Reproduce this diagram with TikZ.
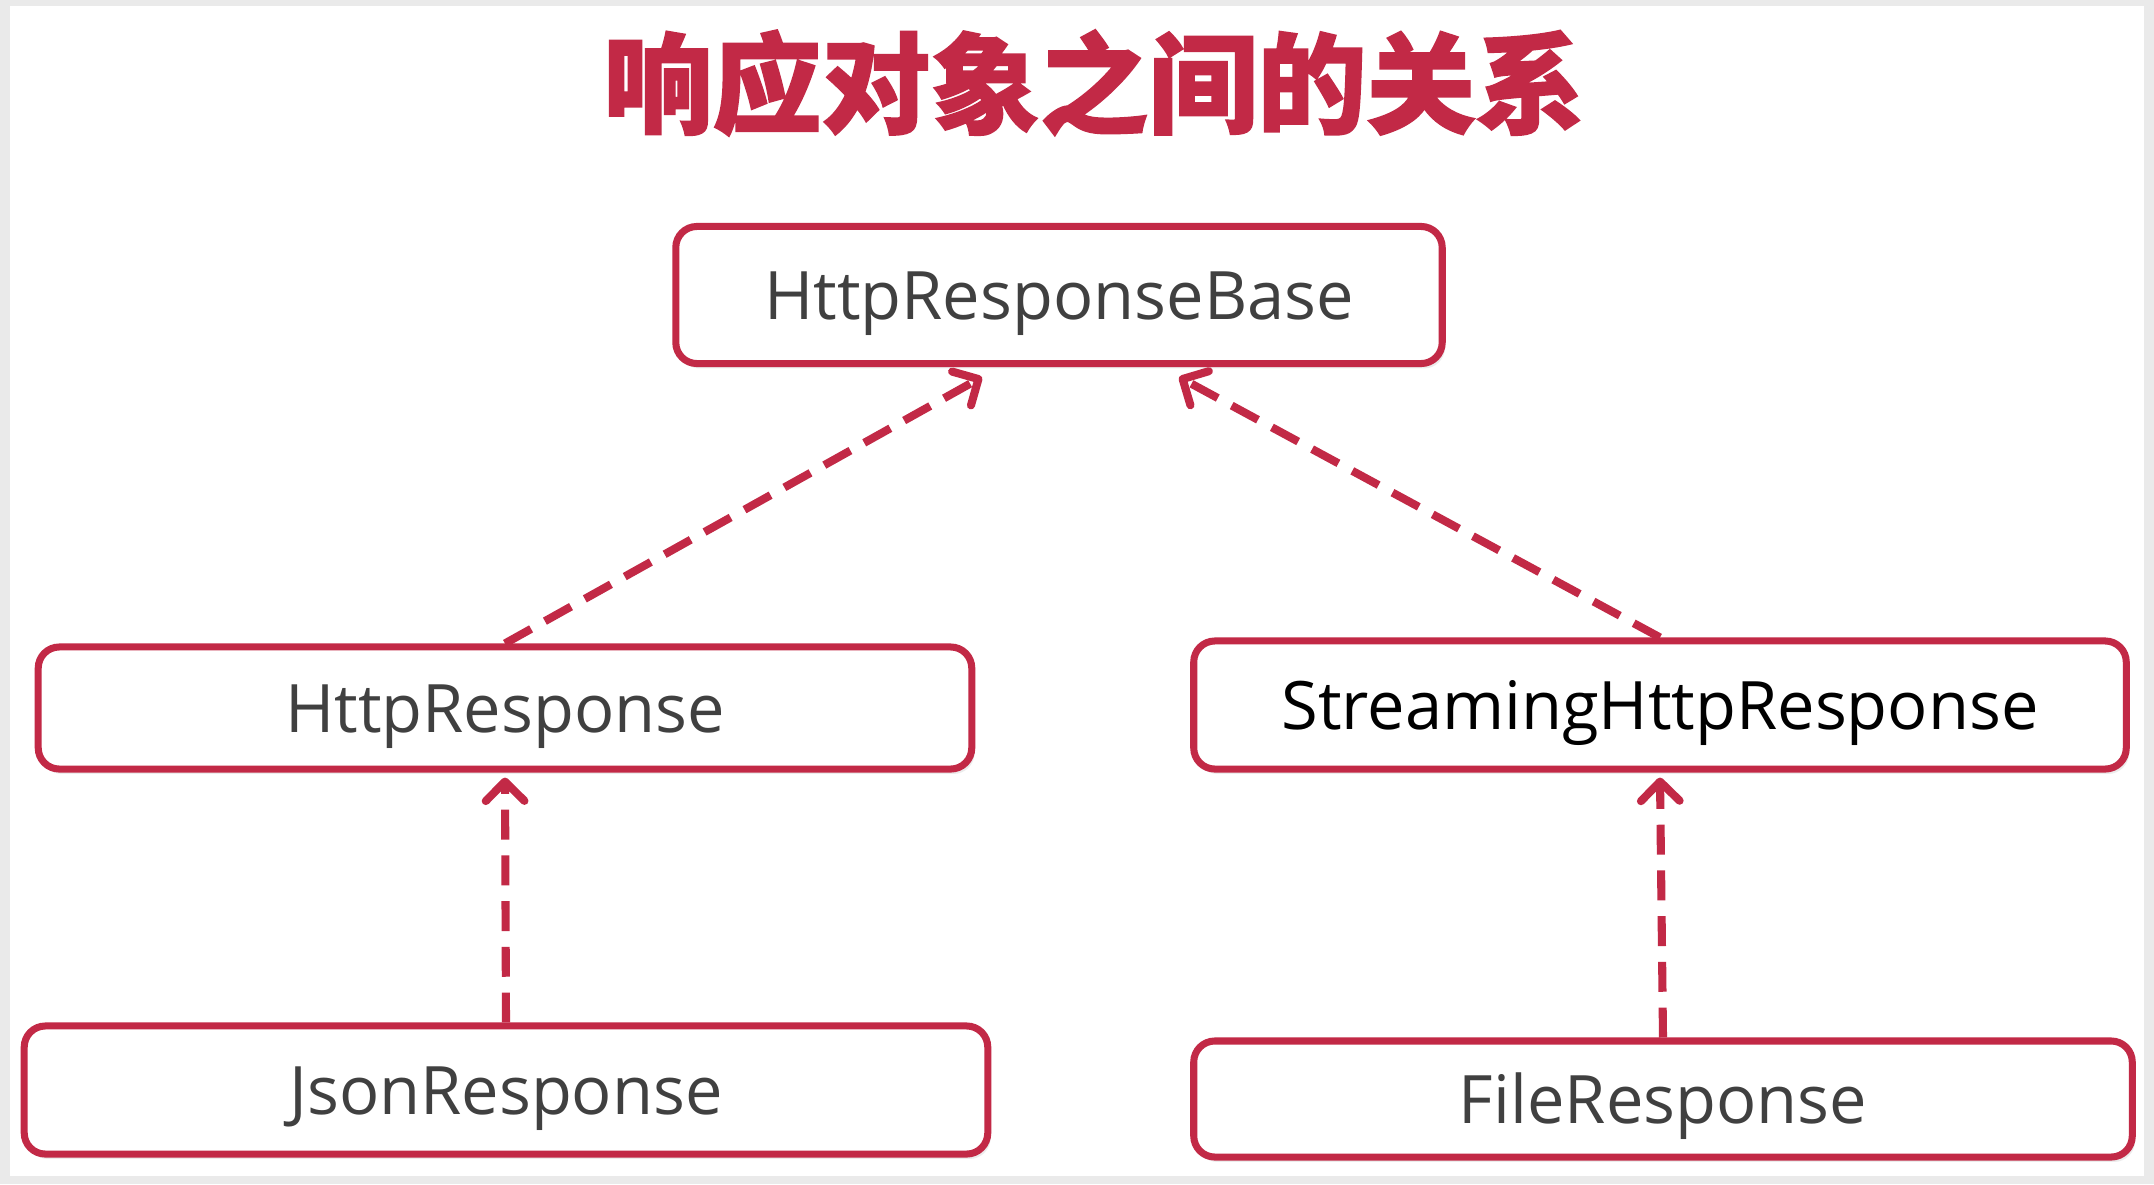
\documentclass[tikz,border=0pt]{standalone}
\usepackage{fontspec}
\setmainfont{Open Sans}
\newfontfamily\cjk[BoldFeatures={FakeBold=1.6}]{Noto Sans CJK SC}
\usetikzlibrary{arrows.meta,shadows}
\definecolor{respred}{RGB}{194,41,70}
\definecolor{inkgray}{RGB}{64,64,64}
\definecolor{pagegray}{RGB}{234,234,234}

\begin{document}
\begin{tikzpicture}[x=0.01cm,y=-0.01cm,
  >={Straight Barb[length=5.5pt,width=11pt,round]},
  cls/.style={draw=respred,line width=2pt,rounded corners=6pt,fill=white,
  text=inkgray,font=\fontsize{19}{23}\selectfont,inner sep=0pt,
  text height=16pt,text depth=2pt,
  drop shadow={shadow xshift=0.8pt,shadow yshift=-1.4pt,opacity=.15}},
  inherit/.style={->,respred,line width=2.3pt,dash pattern=on 8.5pt off 4.5pt}]
  \useasboundingbox (0,0) rectangle (2154,1184);
  \fill[pagegray] (0,0) rectangle (2154,1184);
  \fill[white] (10,6) rectangle (2144,1176);
  \node[font=\cjk\bfseries\fontsize{31}{36}\selectfont,text=respred] (title) at (1094,83) {响应对象之间的关系};
  % classes
  \node[cls,minimum width=7.66cm,minimum height=1.37cm] (base) at (1059,295) {HttpResponseBase};
  \node[cls,minimum width=9.33cm,minimum height=1.22cm] (http) at (505,708) {HttpResponse};
  \node[cls,minimum width=9.32cm,minimum height=1.28cm,text=black] (stream) at (1660,705) {StreamingHttpResponse};
  \node[cls,minimum width=9.63cm,minimum height=1.28cm] (json) at (506,1090) {JsonResponse};
  \node[cls,minimum width=9.38cm,minimum height=1.16cm] (file) at (1663,1099) {FileResponse};
  % inheritance
  \coordinate (baseL) at ([xshift=-0.77cm,yshift=-0.1cm]base.south);
  \coordinate (baseR) at ([xshift=1.2cm,yshift=-0.1cm]base.south);
  \draw[inherit] (http.north) -- (baseL);
  \draw[inherit] (stream.north) -- (baseR);
  \draw[inherit] (json.north) -- ([yshift=-0.05cm]http.south);
  \draw[inherit] (file.north) -- ([yshift=-0.05cm]stream.south);
\end{tikzpicture}
\end{document}
